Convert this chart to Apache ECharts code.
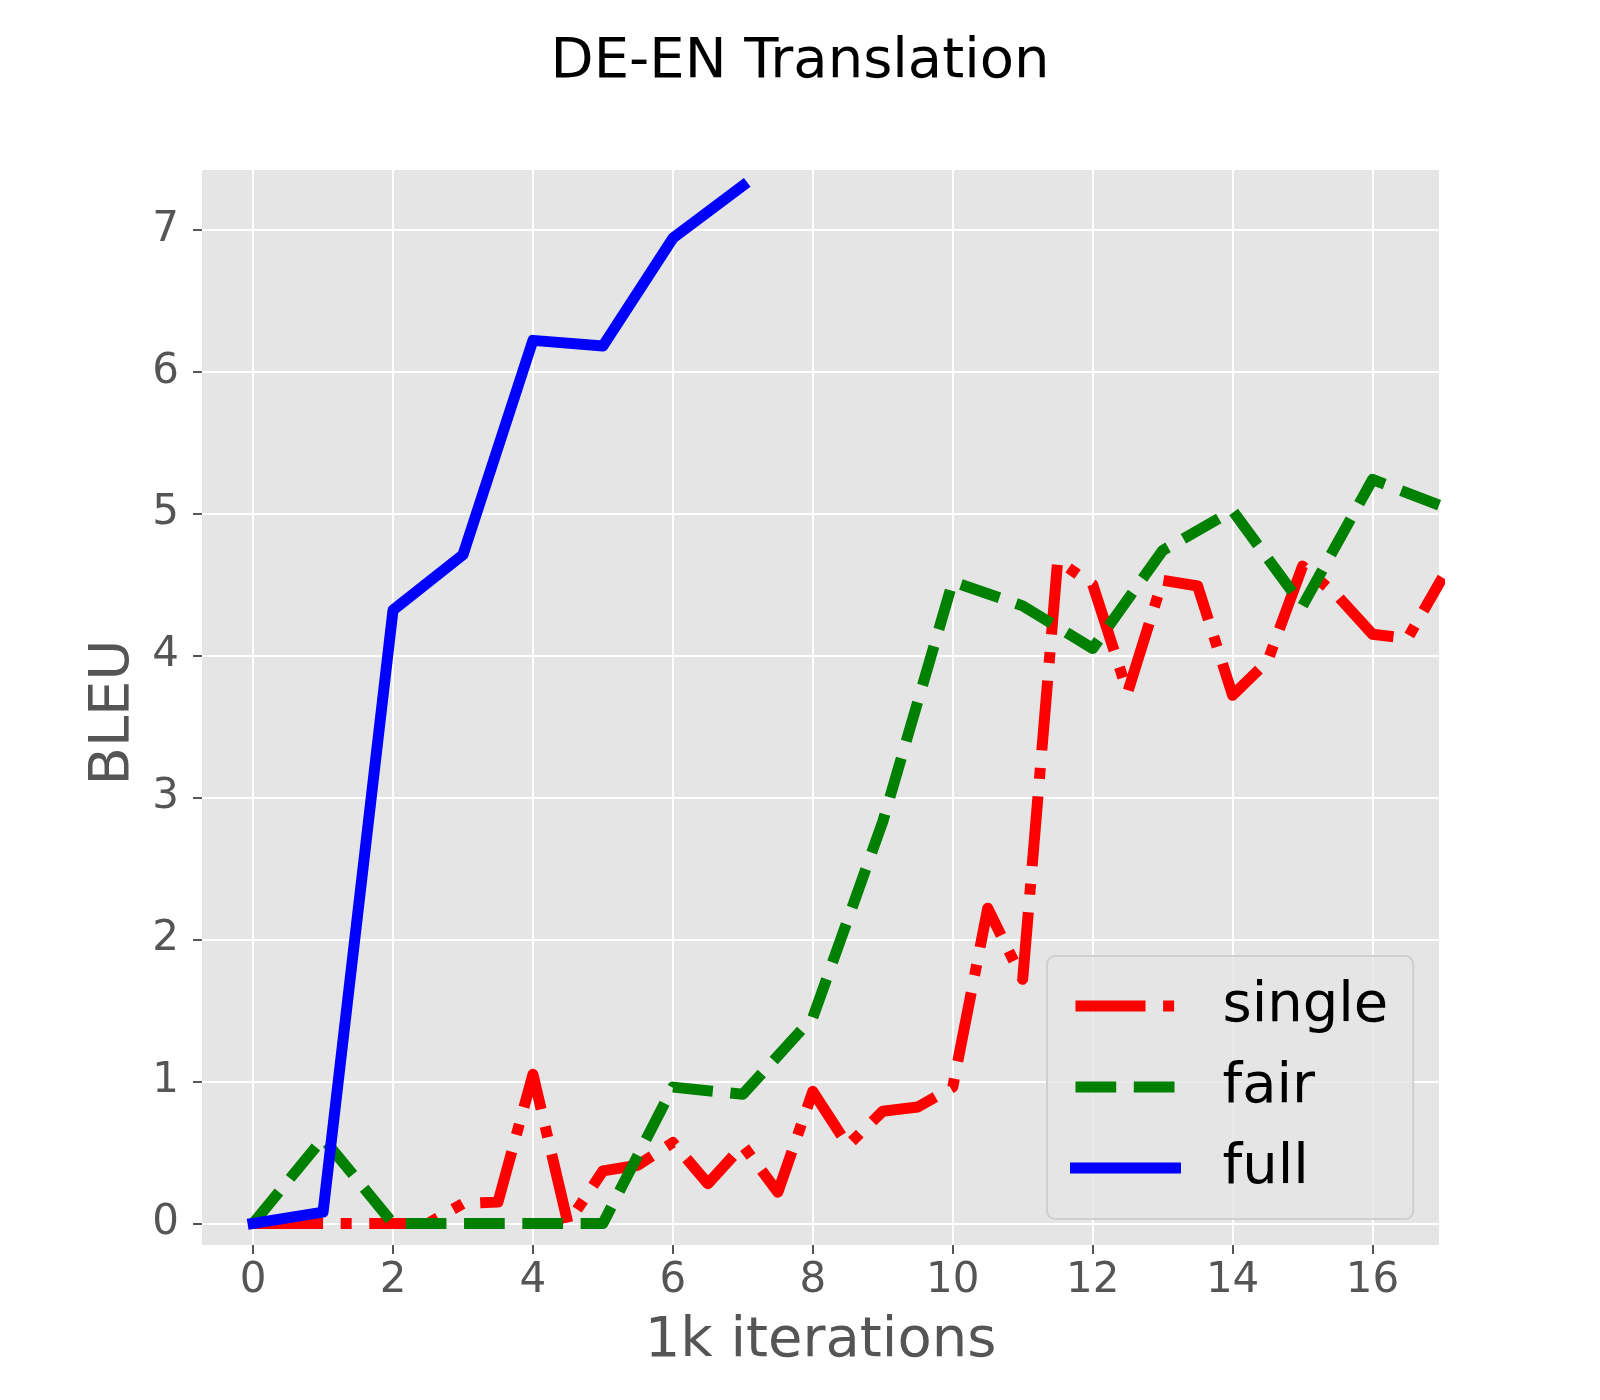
<!DOCTYPE html>
<html>
<head>
<meta charset="utf-8">
<script src="https://cdn.jsdelivr.net/npm/echarts@6/dist/echarts.min.js"></script>
<style>html,body{margin:0;padding:0;background:#fff}#c{width:1600px;height:1400px}</style>
</head>
<body>
<div id="c"></div>
<script>
// ---- data ----
const seriesNames = ['single', 'fair', 'full'];
const singleX = [0,0.5,1,1.5,2,2.5,3,3.5,4,4.5,5,5.5,6,6.5,7,7.5,8,8.5,9,9.5,10,10.5,11,11.5,12,12.5,13,13.5,14,14.5,15,15.5,16,16.5,17];
const singleY = [0,0,0,0,0,0,0.14,0.15,1.05,0.0,0.37,0.41,0.57,0.28,0.55,0.22,0.93,0.55,0.79,0.82,0.96,2.22,1.72,4.67,4.5,3.74,4.53,4.49,3.72,3.96,4.63,4.42,4.15,4.12,4.55];
const fairX = [0,1,2,3,4,5,6,7,8,9,10,11,12,13,14,15,16,17];
const fairY = [0,0.6,0,0,0,0,0.96,0.91,1.45,2.83,4.52,4.35,4.05,4.74,5.02,4.35,5.24,5.05];
const fullX = [0,1,2,3,4,5,6,7];
const fullY = [0,0.08,4.32,4.71,6.22,6.18,6.94,7.31];
const xTicks = [0,2,4,6,8,10,12,14,16];
const yTicks = [0,1,2,3,4,5,6,7];

const zip = (xs, ys) => xs.map((x, i) => [x, ys[i]]);

const chart = echarts.init(document.getElementById('c'), null, {renderer: 'canvas'});
const FONT = 'DejaVu Sans';
const tickGray = '#555555';

chart.setOption({
  animation: false,
  backgroundColor: '#ffffff',
  title: {
    text: 'DE-EN Translation',
    left: 'center',
    top: 34,
    padding: 0,
    textStyle: {fontFamily: FONT, fontSize: 56, fontWeight: 'normal', color: '#000000'}
  },
  grid: {
    left: 202, right: 161, top: 170, bottom: 155,
    show: true, backgroundColor: '#E5E5E5', borderWidth: 0,
    containLabel: false
  },
  legend: {
    orient: 'vertical',
    left: 1047, top: 956,
    padding: [22, 25, 23, 23],
    itemWidth: 100, itemHeight: 14, itemGap: 25,
    backgroundColor: 'rgba(229,229,229,0.8)',
    borderColor: 'rgba(204,204,204,0.9)', borderWidth: 2, borderRadius: 8,
    data: seriesNames,
    itemStyle: {opacity: 0},
    lineStyle: {width: 11},
    textStyle: {fontFamily: FONT, fontSize: 56, color: '#000000', padding: [0, 0, 0, 42]}
  },
  xAxis: {
    type: 'value',
    min: -0.73, max: 16.95,
    name: '1k iterations',
    nameLocation: 'middle',
    nameGap: 68,
    nameTextStyle: {fontFamily: FONT, fontSize: 56, color: tickGray},
    axisLine: {show: false, onZero: false},
    axisTick: {show: true, length: 9, customValues: xTicks, lineStyle: {color: tickGray, width: 2}},
    axisLabel: {customValues: xTicks, margin: 15, fontFamily: FONT, fontSize: 42, color: tickGray},
    splitLine: {show: true, lineStyle: {color: '#ffffff', width: 2}}
  },
  yAxis: {
    type: 'value',
    min: -0.152, max: 7.42,
    name: 'BLEU',
    nameLocation: 'middle',
    nameGap: 46,
    nameTextStyle: {fontFamily: FONT, fontSize: 56, color: tickGray, padding: [0, 10, 0, 0]},
    axisLine: {show: false, onZero: false},
    axisTick: {show: true, length: 9, customValues: yTicks, lineStyle: {color: tickGray, width: 2}},
    axisLabel: {customValues: yTicks, margin: 23, fontFamily: FONT, fontSize: 42, color: tickGray},
    splitLine: {show: true, lineStyle: {color: '#ffffff', width: 2}}
  },
  series: [
    {
      name: 'single', type: 'line', data: zip(singleX, singleY),
      symbol: 'none', clip: true,
      lineStyle: {color: '#ff0000', width: 11, type: [70, 17.6, 11, 17.6], cap: 'butt', join: 'round'},
      itemStyle: {color: '#ff0000'}
    },
    {
      name: 'fair', type: 'line', data: zip(fairX, fairY),
      symbol: 'none', clip: true,
      lineStyle: {color: '#008000', width: 11, type: [40.7, 17.6], cap: 'butt', join: 'round'},
      itemStyle: {color: '#008000'}
    },
    {
      name: 'full', type: 'line', data: zip(fullX, fullY),
      symbol: 'none', clip: true,
      lineStyle: {color: '#0000ff', width: 11, type: 'solid', cap: 'square', join: 'round'},
      itemStyle: {color: '#0000ff'}
    }
  ]
});
</script>
</body>
</html>
